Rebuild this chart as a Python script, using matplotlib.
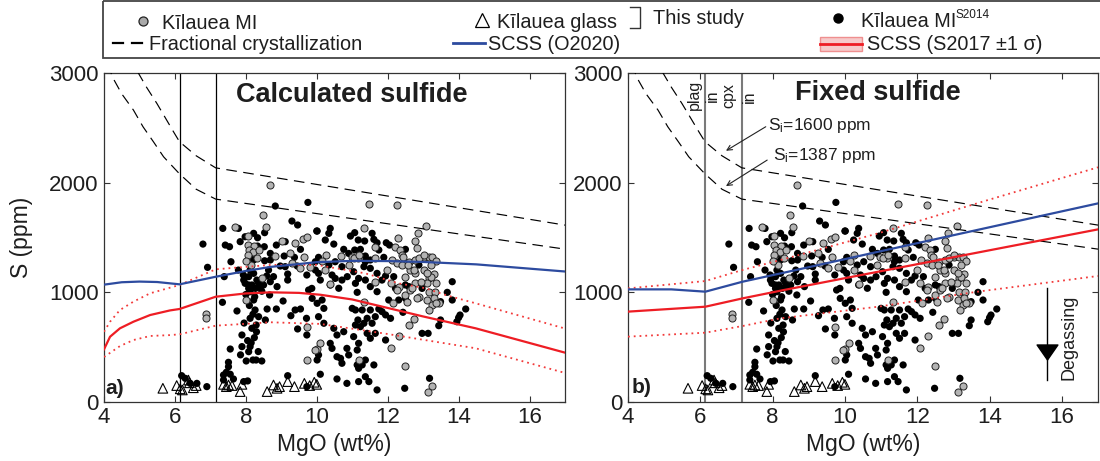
import matplotlib
matplotlib.use('Agg')
import matplotlib.pyplot as plt
from matplotlib.patches import Rectangle
from matplotlib.path import Path

plt.rcParams['font.family'] = ['Liberation Sans', 'DejaVu Sans']
plt.rcParams['mathtext.fontset'] = 'custom'
plt.rcParams['mathtext.rm'] = 'Liberation Sans'
plt.rcParams['mathtext.it'] = 'Liberation Sans:italic'
plt.rcParams['mathtext.bf'] = 'Liberation Sans:bold'

# ---------------- data ----------------
x_ticks = [4, 6, 8, 10, 12, 14, 16]
y_ticks = [0, 1000, 2000, 3000]
plag_in_mgo = 6.13
cpx_in_mgo = 7.15

# Kilauea MI (this study) : (MgO, S)
mi_this_study = [
    (8.67, 1978), (8.48, 1708), (8.57, 1598), (7.70, 1592), (8.05, 1513), (8.05, 1431), (8.22, 1422),
    (8.08, 1386), (8.20, 1370), (8.36, 1386), (8.05, 1340), (8.31, 1310), (8.15, 1250), (8.00, 1290),
    (9.02, 1471), (9.25, 1361), (9.40, 1452), (9.61, 1483), (9.73, 1507), (9.63, 1319), (8.83, 1331),
    (8.45, 1127), (9.30, 1264), (9.54, 1219), (9.82, 1234),
    (11.47, 1802), (12.27, 1796), (13.09, 1604), (12.86, 1538), (12.76, 1471), (12.83, 1401), (12.29, 1498),
    (11.33, 1583), (11.65, 1410), (12.22, 1410), (12.36, 1386), (12.39, 1340), (10.26, 1340), (10.69, 1331),
    (10.15, 1289), (10.98, 1319), (11.17, 1310), (11.65, 1310), (12.11, 1295), (12.27, 1264), (12.41, 1249),
    (12.60, 1279), (12.78, 1295), (13.02, 1319), (13.16, 1325), (13.26, 1319), (13.35, 1288), (13.21, 1249),
    (13.02, 1203), (12.78, 1173), (12.64, 1203), (12.50, 1143), (13.30, 1167), (13.16, 1127), (11.98, 1203),
    (10.90, 1249), (10.24, 1203), (10.38, 1076), (11.65, 1097), (12.08, 1082), (12.31, 1051), (12.78, 1082),
    (13.11, 1082), (11.06, 1309), (11.20, 1340), (12.43, 1324), (12.57, 1248), (12.89, 1309), (13.03, 1340),
    (12.89, 960), (13.12, 929), (13.44, 899), (13.26, 884), (13.17, 838), (12.48, 975), (12.62, 1020),
    (12.94, 1096), (13.35, 1081), (13.21, 1142), (13.12, 1172), (12.75, 1203),
    (6.88, 803), (6.88, 763), (8.01, 930), (9.72, 687), (10.01, 483), (9.72, 383),
    (12.27, 1021), (12.69, 1037), (12.83, 945), (13.16, 1000), (13.33, 1000), (13.30, 945), (13.35, 900),
    (12.14, 900), (12.55, 915), (11.33, 915), (12.08, 490), (12.31, 605), (12.74, 757), (12.60, 702),
    (9.96, 474), (10.10, 535), (11.18, 383), (12.50, 331), (13.26, 149), (13.14, 88),
]

# Kilauea MI (S2014) : (MgO, S)
mi_s2014 = [
    (8.83, 1787), (9.75, 1820), (9.30, 1650), (9.46, 1614), (7.35, 1583), (7.79, 1583), (10.01, 1559),
    (8.53, 1544), (6.79, 1440), (7.84, 1462), (7.98, 1507), (8.22, 1538), (8.33, 1498), (7.42, 1431),
    (7.54, 1416), (8.33, 1422), (8.17, 1355), (8.22, 1295), (8.52, 1416), (8.69, 1355), (8.86, 1431),
    (9.11, 1462), (9.54, 1392), (9.37, 1319), (9.08, 1331), (8.69, 1295), (8.53, 1288), (10.05, 1319),
    (7.58, 1279), (6.92, 1228), (7.39, 1143), (7.79, 1203), (7.93, 1158), (8.08, 1143), (8.22, 1173),
    (8.36, 1082), (8.59, 1149), (8.69, 1097), (7.98, 1082), (8.17, 1067), (9.18, 1167), (9.18, 1112),
    (9.45, 1240), (9.72, 1158), (9.86, 1036), (8.97, 1240), (9.11, 1234),
    (7.94, 1112), (8.12, 1203), (8.31, 1112), (8.50, 1067), (8.64, 1203), (8.78, 1143), (8.88, 1052),
    (8.27, 1036), (8.08, 1036),
    (10.00, 1559), (10.38, 1583), (10.34, 1538), (10.24, 1477), (10.48, 1440), (10.95, 1513), (11.07, 1544),
    (11.17, 1477), (11.35, 1468), (11.56, 1538), (11.61, 1483), (11.70, 1452), (11.96, 1452), (12.05, 1431),
    (11.75, 1386), (12.50, 1392), (10.76, 1392), (10.90, 1355), (11.07, 1386), (11.23, 1392), (11.37, 1331),
    (11.51, 1295), (9.96, 1279), (10.34, 1249), (10.52, 1279), (11.37, 1279), (11.89, 1319), (12.88, 1249),
    (12.17, 1143), (11.94, 1149), (11.70, 1173), (11.51, 1219), (11.33, 1234), (11.04, 1188), (10.71, 1234),
    (10.52, 1127), (10.71, 1112), (10.05, 1173), (11.18, 1127), (12.50, 1067), (13.82, 1097),
    (9.96, 1203), (10.10, 1112), (10.43, 1158), (10.86, 1143), (11.09, 1082), (11.37, 1112), (11.51, 1052),
    (11.84, 1112), (12.22, 1036), (12.60, 1052), (12.97, 1036),
    (7.34, 909), (7.75, 830), (8.08, 1067), (8.12, 1006), (8.22, 930), (8.26, 839), (8.12, 763), (8.36, 778),
    (8.17, 672), (8.29, 702), (8.55, 748), (8.60, 848), (8.86, 848), (8.67, 976), (9.05, 921), (8.40, 1043),
    (9.27, 787), (9.39, 839), (9.54, 848), (9.71, 763), (9.46, 666), (9.72, 611), (10.05, 429), (10.01, 383),
    (9.87, 945), (10.01, 900), (9.77, 1021), (7.89, 611), (8.24, 587), (7.89, 505), (8.12, 505), (8.08, 459),
    (7.56, 483), (8.29, 383), (8.01, 374), (8.45, 374), (8.20, 383), (7.51, 362), (7.51, 322), (7.45, 271),
    (7.37, 246), (7.56, 253), (7.65, 210), (7.37, 201), (7.94, 186), (8.05, 192), (6.90, 140), (6.19, 240),
    (6.29, 216), (6.62, 170), (6.43, 170), (9.18, 240), (9.72, 140),
    (8.00, 980), (8.10, 880), (8.20, 800), (7.95, 720), (8.30, 640), (8.05, 560), (8.15, 540), (7.85, 430),
    (8.35, 460), (8.25, 960), (8.45, 1010),
    (10.38, 1067), (10.62, 1037), (11.14, 1000), (11.70, 1006), (13.49, 915), (13.68, 1000), (12.03, 930),
    (12.31, 930), (12.50, 945), (10.15, 930), (10.20, 854), (10.05, 778), (11.00, 854), (11.09, 839),
    (11.28, 839), (11.51, 839), (11.75, 848), (11.84, 824), (11.94, 794), (12.08, 763), (11.65, 778),
    (11.42, 763), (11.16, 748), (11.09, 702), (11.23, 687), (11.33, 718), (11.56, 718), (10.20, 718),
    (10.48, 672), (10.57, 611), (10.76, 641), (11.04, 596), (11.18, 535), (11.42, 626), (11.65, 626),
    (11.51, 581), (11.94, 565), (12.43, 818), (12.97, 626), (13.14, 626), (13.44, 696), (13.49, 748),
    (14.00, 769), (14.20, 848), (13.82, 930), (13.95, 732), (14.04, 793), (10.38, 535), (10.43, 489),
    (10.57, 413), (10.67, 398), (10.85, 489), (10.90, 429), (11.14, 474), (10.71, 353), (11.14, 338),
    (11.28, 338), (11.37, 383), (11.18, 307), (11.61, 338), (11.37, 231), (11.47, 186), (11.18, 186),
    (10.85, 170), (10.57, 210), (10.10, 253), (11.70, 110), (12.48, 125), (13.18, 216),
]

# Kilauea glass (this study) : (MgO, S)
glass = [
    (5.66, 125), (6.05, 150), (6.15, 120), (6.21, 110), (6.38, 200), (6.41, 175), (6.52, 130), (6.60, 150),
    (7.37, 161), (7.45, 140), (7.51, 155), (7.61, 150), (7.84, 95), (7.89, 161), (8.60, 95), (8.78, 155),
    (8.88, 125), (8.95, 140), (9.18, 186), (9.37, 140), (9.65, 170), (9.80, 150), (9.93, 180), (10.00, 161),
]

# Fractional crystallization paths
fc1600_mgo = [4.95, 5.20, 5.49, 5.75, 5.96, 6.13, 6.60, 7.15, 17.0]
fc1600_s = [3010, 2870, 2723, 2580, 2464, 2373, 2245, 2135, 1613]
fc1387_mgo = [4.10, 4.26, 4.50, 4.83, 5.10, 5.40, 5.68, 6.13, 6.60, 7.15, 17.0]
fc1387_s = [3080, 2950, 2810, 2662, 2510, 2370, 2236, 2080, 1940, 1850, 1394]

# Panel a (calculated sulfide)
a_o2020_mgo = [4.0, 4.5, 5.0, 5.5, 6.13, 7.15, 8.0, 8.7, 10.0, 11.0, 12.0, 13.0, 14.5, 17.0]
a_o2020_s = [1070, 1092, 1098, 1094, 1073, 1142, 1195, 1232, 1275, 1287, 1285, 1277, 1255, 1190]
a_s2017_mgo = [4.0, 4.17, 4.45, 4.83, 5.3, 5.86, 6.13, 7.15, 8.0, 8.7, 9.5, 10.1, 11.0, 11.84, 13.0, 14.48, 17.0]
a_s2017_s = [480, 595, 672, 732, 793, 835, 848, 960, 990, 1000, 995, 978, 935, 870, 780, 672, 450]
a_s2017_hi_mgo = [4.0, 4.17, 4.45, 4.83, 5.3, 6.13, 7.15, 8.7, 10.0, 11.37, 12.31, 13.07, 13.63, 14.48, 17.0]
a_s2017_hi_s = [640, 732, 839, 915, 991, 1067, 1210, 1250, 1250, 1173, 1082, 1037, 976, 900, 670]
a_s2017_lo_mgo = [4.0, 4.45, 4.83, 5.3, 5.86, 6.13, 7.15, 8.7, 10.1, 12.0, 14.48, 17.0]
a_s2017_lo_s = [410, 510, 565, 602, 610, 617, 696, 727, 712, 620, 490, 265]

# Panel b (fixed sulfide)
b_o2020_mgo = [4.0, 5.2, 6.14, 7.17, 8.31, 10.92, 17.0]
b_o2020_s = [1027, 1027, 1006, 1097, 1179, 1370, 1811]
b_s2017_mgo = [4.0, 6.14, 7.17, 8.31, 10.92, 17.0]
b_s2017_s = [824, 869, 945, 1021, 1188, 1574]
b_s2017_hi_mgo = [4.0, 6.14, 7.17, 8.22, 10.92, 13.95, 17.0]
b_s2017_hi_s = [1036, 1103, 1204, 1295, 1538, 1841, 2140]
b_s2017_lo_mgo = [4.0, 6.14, 7.17, 8.22, 10.92, 13.67, 17.0]
b_s2017_lo_s = [596, 632, 693, 763, 869, 1006, 1149]

# annotations
degas_mgo = 15.6
degas_s_top, degas_s_bottom, degas_s_head = 1040, 200, 455

# ---------------- styles ----------------
BLUE = '#2d4b9f'
RED = '#ee1d24'
RED_DOT = '#f23a3a'
GREY_FACE = '#b3b3b3'
TXT = '#1e1e1e'

fig = plt.figure(figsize=(11, 4.61), dpi=100)
axL = fig.add_axes([104 / 1100, 59 / 461, 461 / 1100, 329 / 461])
axR = fig.add_axes([628 / 1100, 59 / 461, 470 / 1100, 329 / 461])


def draw_panel(ax, vline_color, vline_lw, o_m, o_s, r_m, r_s, rh_m, rh_s, rl_m, rl_s):
    ax.set_xlim(4, 17)
    ax.set_ylim(0, 3000)
    ax.set_xticks(x_ticks)
    ax.set_yticks(y_ticks)
    ax.tick_params(direction='in', length=4.5, width=0.8, top=True, right=True,
                   labelsize=16, colors='#333333', labelcolor=TXT)
    ax.tick_params(axis='x', pad=3.5)
    ax.tick_params(axis='y', pad=4)
    for sp in ax.spines.values():
        sp.set_linewidth(0.9)
        sp.set_color('#333333')
    for v in (plag_in_mgo, cpx_in_mgo):
        ax.axvline(v, color=vline_color, lw=vline_lw, zorder=1)
    # scatter
    ax.scatter([p[0] for p in mi_s2014], [p[1] for p in mi_s2014], s=27, c='black',
               edgecolors='none', zorder=2)
    ax.scatter([p[0] for p in mi_this_study], [p[1] for p in mi_this_study], s=26, c=GREY_FACE,
               edgecolors='#222222', linewidths=0.7, zorder=2.1)
    ax.scatter([p[0] for p in glass], [p[1] for p in glass], s=48, marker='^', facecolors='none',
               edgecolors='black', linewidths=0.8, zorder=2.2)
    # fractional crystallization
    for m, s in ((fc1600_mgo, fc1600_s), (fc1387_mgo, fc1387_s)):
        ax.plot(m, s, color='black', lw=0.85, dashes=(9, 5.5), zorder=3)
    # SCSS
    ax.plot(rh_m, rh_s, color=RED_DOT, lw=1.3, linestyle=(0, (1, 2.2)), zorder=3)
    ax.plot(rl_m, rl_s, color=RED_DOT, lw=1.3, linestyle=(0, (1, 2.2)), zorder=3)
    ax.plot(r_m, r_s, color=RED, lw=1.6, zorder=3.1)
    ax.plot(o_m, o_s, color=BLUE, lw=1.6, zorder=3.2)
    ax.set_xlabel('MgO (wt%)', fontsize=16.5, color=TXT)
    ax.xaxis.set_label_coords(0.5, -0.094)


draw_panel(axL, 'black', 0.9, a_o2020_mgo, a_o2020_s, a_s2017_mgo, a_s2017_s,
           a_s2017_hi_mgo, a_s2017_hi_s, a_s2017_lo_mgo, a_s2017_lo_s)
draw_panel(axR, '#7a7a7a', 1.5, b_o2020_mgo, b_o2020_s, b_s2017_mgo, b_s2017_s,
           b_s2017_hi_mgo, b_s2017_hi_s, b_s2017_lo_mgo, b_s2017_lo_s)

axL.set_ylabel('S (ppm)', fontsize=16.5, color=TXT)
axL.yaxis.set_label_coords(-0.154, 0.5)

axL.text(0.538, 0.912, 'Calculated sulfide', transform=axL.transAxes, ha='center', va='baseline',
         fontsize=19.5, fontweight='bold', color=TXT)
axR.text(0.532, 0.918, 'Fixed sulfide', transform=axR.transAxes, ha='center', va='baseline',
         fontsize=19.5, fontweight='bold', color=TXT)
axL.text(0.004, 0.012, 'a)', transform=axL.transAxes, ha='left', va='bottom', fontsize=15,
         fontweight='bold', color=TXT)
axR.text(0.008, 0.016, 'b)', transform=axR.transAxes, ha='left', va='bottom', fontsize=15,
         fontweight='bold', color=TXT)

# plag-in / cpx-in labels (panel b)
axR.text(5.84, 2800, 'plag', rotation=90, ha='center', va='center', fontsize=11.5, color=TXT)
axR.text(6.33, 2790, 'in', rotation=90, ha='center', va='center', fontsize=11.5, color=TXT)
axR.text(6.80, 2790, 'cpx', rotation=90, ha='center', va='center', fontsize=11.5, color=TXT)
axR.text(7.35, 2780, 'in', rotation=90, ha='center', va='center', fontsize=11.5, color=TXT)

# Si annotations
axR.annotate('', xy=(6.71, 2291), xytext=(7.81, 2510),
             arrowprops=dict(arrowstyle='->', lw=0.8, color='#222222', shrinkA=0, shrinkB=0,
                             mutation_scale=9))
axR.annotate('', xy=(6.71, 1969), xytext=(7.85, 2206),
             arrowprops=dict(arrowstyle='->', lw=0.8, color='#222222', shrinkA=0, shrinkB=0,
                             mutation_scale=9))
axR.text(7.88, 2525, r'S$_\mathrm{i}$=1600 ppm', ha='left', va='center', fontsize=12.5, color=TXT)
axR.text(8.01, 2252, r'S$_\mathrm{i}$=1387 ppm', ha='left', va='center', fontsize=12.5, color=TXT)

# Degassing arrow
axR.plot([degas_mgo, degas_mgo], [degas_s_top, degas_s_bottom], color='black', lw=1.0, zorder=4)
tri = Path([(-1, 0.72), (1, 0.72), (0, -0.72), (-1, 0.72)],
           [Path.MOVETO, Path.LINETO, Path.LINETO, Path.CLOSEPOLY])
axR.plot([degas_mgo], [degas_s_head], marker=tri, ms=15, color='black', zorder=4)
axR.text(16.2, 590, 'Degassing', rotation=90, ha='center', va='center', fontsize=13, color=TXT)

# ---------------- legend (figure-pixel frame) ----------------
leg = fig.add_axes([0, 1 - 60 / 461, 1, 60 / 461])
leg.set_xlim(0, 1100)
leg.set_ylim(60, 0)
leg.axis('off')
leg.add_patch(Rectangle((103, 1.5), 1010, 56.5, fill=False, ec='#444444', lw=1.3, clip_on=False))
fs = 14.3
leg.plot([143], [21], 'o', ms=6.5, mfc='#a9a9a9', mec='#222222', mew=0.9)
leg.text(162, 29, 'Kīlauea MI', fontsize=fs, va='baseline', color=TXT)
leg.plot([482], [20], '^', ms=10, mfc='white', mec='black', mew=0.9)
leg.text(497, 28, 'Kīlauea glass', fontsize=fs, va='baseline', color=TXT)
leg.plot([630, 640, 640, 630], [7, 7, 28, 28], color='#333333', lw=1.0)
leg.text(653, 24.5, 'This study', fontsize=fs, va='baseline', color=TXT)
leg.plot([838], [18.5], 'o', ms=6.5, mfc='black', mec='black')
leg.text(861, 27, 'Kīlauea MI', fontsize=fs, va='baseline', color=TXT)
leg.text(956, 18.5, 'S2014', fontsize=8.5, va='baseline', color=TXT)
leg.plot([113, 123], [43.5, 43.5], color='black', lw=1.6)
leg.plot([132, 142], [43.5, 43.5], color='black', lw=1.6)
leg.text(149, 50, 'Fractional crystallization', fontsize=fs, va='baseline', color=TXT)
leg.plot([453, 485], [43.5, 43.5], color=BLUE, lw=2.0)
leg.text(488, 50, 'SCSS (O2020)', fontsize=fs, va='baseline', color=TXT)
leg.add_patch(Rectangle((820, 37.3), 42, 13.4, fc='#f6caca', ec='#ef8f8f', lw=1.0))
leg.plot([820, 862], [44, 44], color=RED, lw=2.0)
leg.text(867, 50, 'SCSS (S2017 ±1 σ)', fontsize=fs, va='baseline', color=TXT)

fig.savefig('out.png', dpi=100)
